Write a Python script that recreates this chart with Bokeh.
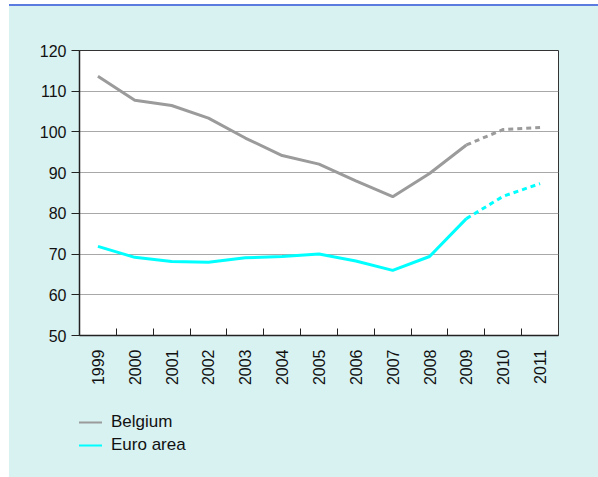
from bokeh.plotting import figure
from bokeh.layouts import column
from bokeh.models import FixedTicker, Legend, LegendItem, Range1d
from bokeh.embed import file_html
from bokeh.resources import INLINE
import math

years = [1999, 2000, 2001, 2002, 2003, 2004, 2005, 2006, 2007, 2008, 2009, 2010, 2011]
belgium = [113.7, 107.8, 106.5, 103.4, 98.5, 94.2, 92.1, 88.0, 84.1, 89.8, 96.8, 100.6, 101.1]
euro_area = [71.9, 69.2, 68.2, 68.0, 69.1, 69.4, 70.0, 68.3, 66.0, 69.4, 78.7, 84.2, 87.3]
series_names = ["Belgium", "Euro area"]
last_actual_year = 2009
y_ticks = [50, 60, 70, 80, 90, 100, 110, 120]

FONT = "Liberation Sans"
BG = "#D8F1F1"
GREY = "#9B9B9B"
CYAN = "#00FFFF"

split = years.index(last_actual_year)

p = figure(width=589, height=400, output_backend="svg", toolbar_location=None,
           x_range=(years[0] - 0.5, years[-1] + 0.5), y_range=(y_ticks[0], y_ticks[-1]),
           min_border_left=70, min_border_right=40, min_border_top=44, min_border_bottom=71)
p.background_fill_color = "white"
p.border_fill_color = BG
p.border_fill_alpha = 0
p.outline_line_color = "#333333"
p.outline_line_width = 1

# x axis: labels at centres, ticks at boundaries
p.xaxis.ticker = FixedTicker(ticks=years, minor_ticks=[y + 0.5 for y in years[:-1]])
p.xaxis.major_tick_line_color = None
p.xaxis.minor_tick_in = 7
p.xaxis.minor_tick_out = 0
p.xaxis.minor_tick_line_color = "#222222"
p.xaxis.axis_line_color = "#222222"
p.xaxis.axis_line_width = 1.5
p.xaxis.major_label_orientation = math.pi / 2
p.xaxis.major_label_standoff = 8
p.xaxis.major_label_text_font = FONT
p.xaxis.major_label_text_font_size = "16px"
p.xaxis.major_label_text_color = "#111111"
p.xgrid.grid_line_color = None

p.yaxis.ticker = FixedTicker(ticks=y_ticks)
p.yaxis.minor_tick_line_color = None
p.yaxis.major_tick_in = 0
p.yaxis.major_tick_out = 8
p.yaxis.major_tick_line_color = "#222222"
p.yaxis.axis_line_color = "#222222"
p.yaxis.axis_line_width = 1.5
p.yaxis.major_label_standoff = 5
p.yaxis.major_label_text_font = FONT
p.yaxis.major_label_text_font_size = "16px"
p.yaxis.major_label_text_color = "#111111"
p.ygrid.grid_line_color = "#A8A8A8"
p.ygrid.grid_line_width = 1

p.line(years[:split + 1], belgium[:split + 1], line_color=GREY, line_width=3)
p.line(years[split:], belgium[split:], line_color=GREY, line_width=3, line_dash="5 4")
p.line(years[:split + 1], euro_area[:split + 1], line_color=CYAN, line_width=3)
p.line(years[split:], euro_area[split:], line_color=CYAN, line_width=3, line_dash="5 4")

# legend strip below the chart
q = figure(width=589, height=71, output_backend="svg", toolbar_location=None,
           x_axis_type=None, y_axis_type=None, x_range=Range1d(0, 1), y_range=Range1d(0, 1),
           min_border_left=0, min_border_right=0, min_border_top=0, min_border_bottom=0)
q.background_fill_alpha = 0
q.border_fill_alpha = 0
q.outline_line_color = None
q.grid.grid_line_color = None
lb = q.line(years, belgium, line_color=GREY, line_width=2, visible=False)
le = q.line(years, euro_area, line_color=CYAN, line_width=2, visible=False)
legend = Legend(items=[LegendItem(label=series_names[0], renderers=[lb]),
                       LegendItem(label=series_names[1], renderers=[le])],
                location=(-1, 22), padding=0, margin=0, spacing=3,
                glyph_width=24, glyph_height=20, label_height=20, label_standoff=9,
                background_fill_alpha=0, border_line_color=None,
                inactive_fill_alpha=0, click_policy="none",
                label_text_font=FONT, label_text_font_size="17px", label_text_color="#111111")
q.add_layout(legend, "center")

layout = column(p, q, spacing=0)
layout.styles = {"margin-top": "4px", "margin-left": "9px", "border-top": "2px solid #5B7BE0",
                 "background-color": BG}

open("out.html", "w").write(file_html(layout, INLINE))
